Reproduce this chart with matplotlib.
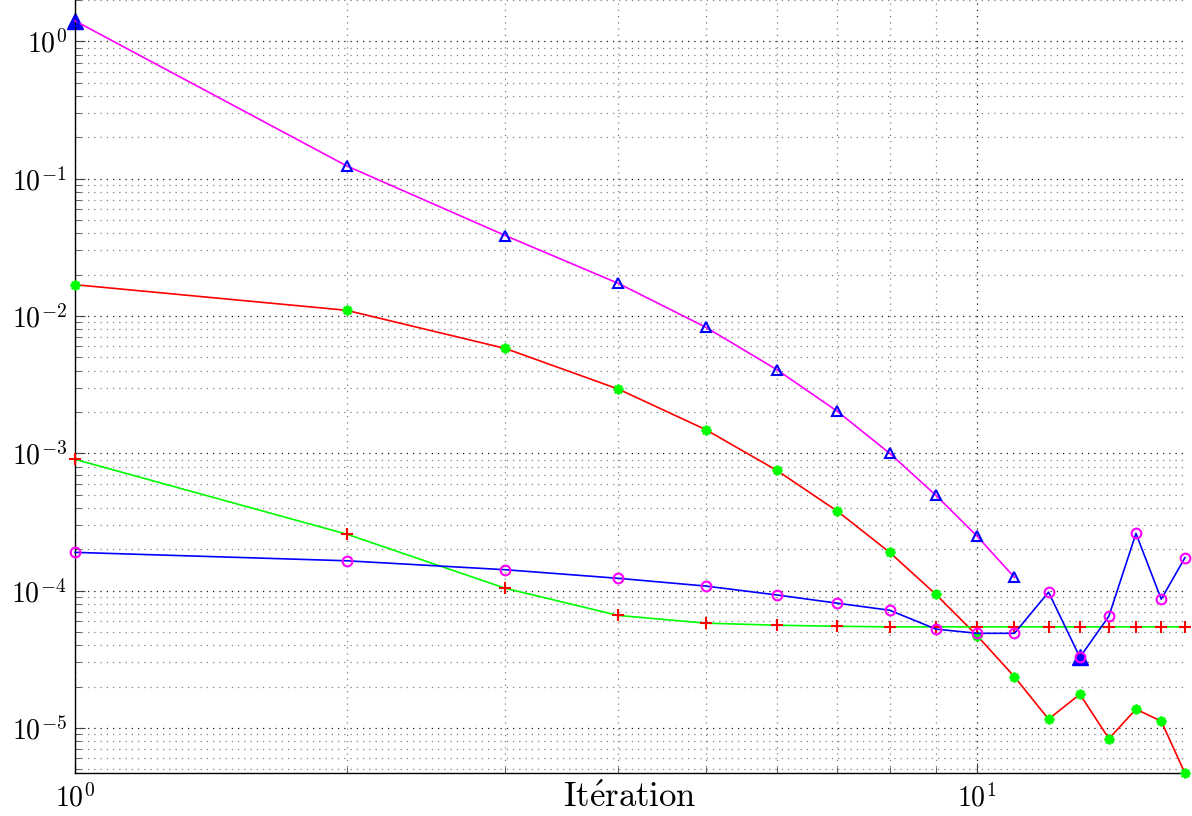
import matplotlib
matplotlib.use("Agg")
import matplotlib.pyplot as plt
from matplotlib.ticker import LogLocator, NullFormatter

plt.rcParams['mathtext.fontset'] = 'cm'
plt.rcParams['font.family'] = ['cmr10', 'DejaVu Serif']
plt.rcParams['axes.formatter.use_mathtext'] = True

iterations = list(range(1, 18))

# magenta line, blue open triangles
s_tri_x = list(range(1, 12))
s_tri = [1.41, 0.124, 0.0385, 0.0173, 0.0083, 0.00406, 0.00202, 0.00100,
         0.000495, 0.000249, 0.000125]

# red line, green asterisks
s_star = [0.0169, 0.0110, 0.0058, 0.00294, 0.00149, 0.00075, 0.000379,
          0.000190, 9.4e-5, 4.7e-5, 2.36e-5, 1.16e-5, 1.76e-5, 8.36e-6,
          1.37e-5, 1.12e-5, 4.68e-6]

# green line, red plus
s_plus = [0.000904, 0.000258, 1.04e-4, 6.6e-5, 5.8e-5, 5.6e-5, 5.5e-5,
          5.45e-5, 5.45e-5, 5.45e-5, 5.45e-5, 5.45e-5, 5.45e-5, 5.45e-5,
          5.45e-5, 5.45e-5, 5.45e-5]

# blue line, magenta circles
s_circ = [1.9e-4, 1.65e-4, 1.42e-4, 1.23e-4, 1.08e-4, 9.3e-5, 8.1e-5,
          7.2e-5, 5.25e-5, 4.89e-5, 4.89e-5, 9.75e-5, 3.27e-5, 6.53e-5,
          2.61e-4, 8.67e-5, 1.74e-4]

# highlighted (filled triangles)
hl_x = [1, 13]
hl_y = [1.41, 3.27e-5]

fig = plt.figure(figsize=(11.92, 8.16), dpi=100)
ax = fig.add_axes([75 / 1192, 43 / 816, 1110 / 1192, 773 / 816])

ax.set_xscale('log')
ax.set_yscale('log')

ax.plot(hl_x, hl_y, linestyle='none', marker='^', markersize=11,
        color='#0000ff', clip_on=False, zorder=2)

ax.plot(s_tri_x, s_tri, color='#ff00ff', lw=1.2, marker='^', markersize=7,
        mfc='none', mec='#0000ff', mew=1.5, clip_on=False, zorder=3)
ax.plot(iterations, s_star, color='#ff0000', lw=1.2, marker=(8, 2, 0),
        markersize=7, mfc='#00ff00', mec='#00ff00', mew=1.8,
        clip_on=False, zorder=3)
ax.plot(iterations, s_plus, color='#00ff00', lw=1.2, marker='+', markersize=8,
        mec='#ff0000', mew=1.5, clip_on=False, zorder=3)
ax.plot(iterations, s_circ, color='#0000ff', lw=1.2, marker='o', markersize=7,
        mfc='none', mec='#ff00ff', mew=1.5, clip_on=False, zorder=4)

ax.set_xlim(1, 17)
ax.set_ylim(4.7e-6, 2.0)

ax.xaxis.set_major_locator(LogLocator(base=10, numticks=10))
ax.xaxis.set_minor_locator(LogLocator(base=10, subs=range(2, 10), numticks=20))
ax.xaxis.set_minor_formatter(NullFormatter())
ax.yaxis.set_major_locator(LogLocator(base=10, numticks=20))
ax.yaxis.set_minor_locator(LogLocator(base=10, subs=range(2, 10), numticks=40))
ax.yaxis.set_minor_formatter(NullFormatter())

for s in ['top', 'right']:
    ax.spines[s].set_visible(False)
for s in ['left', 'bottom']:
    ax.spines[s].set_linewidth(1.0)

ax.tick_params(axis='both', which='major', direction='in', length=7, width=0.8,
               labelsize=20, color='0.25')
ax.tick_params(axis='both', which='minor', direction='in', length=4, width=0.7,
               color='0.35')
ax.tick_params(axis='x', which='major', pad=8)
ax.tick_params(axis='y', which='major', pad=6)

ax.grid(True, which='major', linestyle=(0, (1, 4)), color='0.1', lw=0.9)
ax.grid(True, which='minor', linestyle=(0, (1, 4)), color='0.5', lw=0.9)
ax.set_axisbelow(True)

ax.set_xlabel(r'$\mathrm{It\acute{e}ration}$', fontsize=25)
ax.xaxis.set_label_coords(0.5, -0.032)
ax.xaxis.label.set_va('center')

fig.savefig('out.png', dpi=100)
